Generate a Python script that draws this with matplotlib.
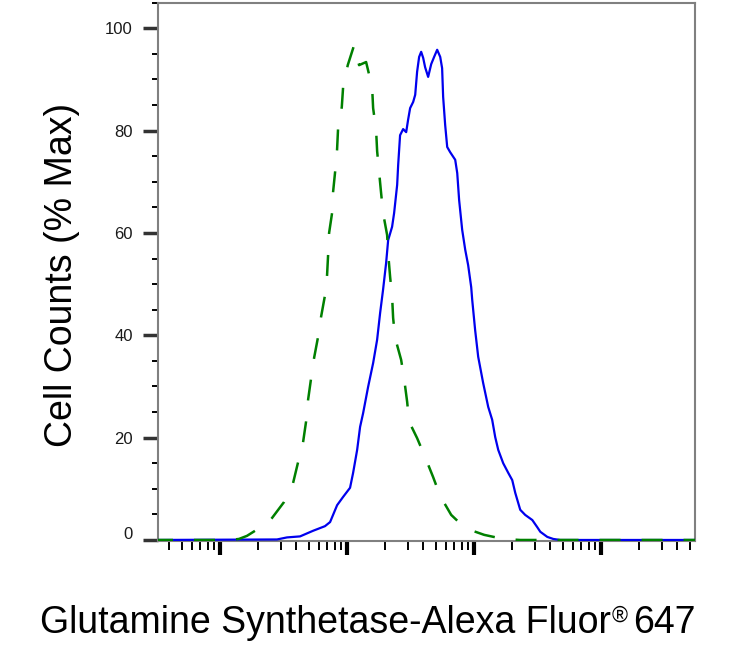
import numpy as np
import matplotlib
matplotlib.use("Agg")
import matplotlib.pyplot as plt
from matplotlib.ticker import LogLocator, NullFormatter, MultipleLocator, FixedLocator
from matplotlib.transforms import ScaledTranslation

plt.rcParams['font.family'] = ['Liberation Sans', 'DejaVu Sans']

# ---- data (fluorescence intensity, % of max) ----
control_x = [3.25, 12.0, 14.1, 16.3, 18.9, 22.6, 25.7, 31.9, 37.6, 41.2, 45.1, 47.6, 49.4,
             52.1, 55.1, 59.2, 62.5, 67.2, 69.7, 71.0, 72.3, 76.3, 77.7, 80.6, 83.5, 85.1,
             91.0, 93.2, 101.4, 113.8, 124.5, 141.4, 157.7, 160.6, 169.5, 172.7, 179.0,
             185.6, 192.4, 207.0, 210.8, 218.6, 226.6, 230.8, 239.3, 266.9, 281.8, 297.6,
             308.6, 356.6, 412.2, 476.5, 541.6, 661.4, 852.6, 1203, 1698, 2312, 55300]
control_y = [0, 0, 0.2, 0.8, 1.8, 2.7, 4.3, 7.4, 11.1, 15.2, 19.1, 23.1, 27.4,
             31.5, 35.6, 39.7, 43.6, 47.9, 51.8, 55.7, 60.0, 63.9, 68.0, 71.9, 76.2, 80.5,
             84.6, 88.5, 92.8, 96.7, 92.8, 93.4, 88.5, 84.4, 80.1, 76.0, 71.9,
             67.8, 63.9, 59.6, 56.1, 51.4, 47.5, 43.4, 39.5, 35.2, 31.5, 27.0,
             23.1, 19.9, 16.2, 12.3, 8.6, 4.9, 2.3, 1.0, 0.2, 0, 0]

sample_x = [3.24, 28.1, 33.7, 42.7, 54.1, 67.1, 73.6, 83.6, 93.1, 105.7, 111.7, 120.2,
            126.8, 134.0, 146.6, 160.7, 172.6, 182.4, 192.3, 203.2, 210.9, 226.5, 235.0,
            248.3, 252.9, 261.8, 276.7, 292.4, 302.7, 314.1, 331.9, 344.4, 356.5, 369.8,
            383.7, 398.1, 412.1, 435.5, 460.3, 485.3, 512.9, 542.0, 561.0, 571.5, 592.9,
            615.2, 648.6, 711.2, 737.9, 763.8, 807.2, 853.1, 899.5, 950.6, 968.3, 1021,
            1079, 1180, 1294, 1390, 1469, 1552, 1698, 1862, 2000, 2113, 2312, 2529, 2877,
            3148, 3327, 3776, 4207, 4775, 55340]
sample_y = [0, 0.1, 0.5, 0.7, 1.8, 2.7, 3.5, 6.8, 8.4, 10.2, 13.1, 17.6,
            22.1, 24.8, 29.9, 34.6, 39.1, 44.4, 48.9, 54.1, 58.6, 61.2, 63.9,
            69.4, 73.3, 79.1, 80.3, 79.7, 82.1, 84.4, 85.6, 87.0, 91.5, 94.4,
            95.4, 94.2, 92.4, 90.5, 93.0, 94.4, 95.8, 94.4, 92.2, 86.6, 81.1,
            76.8, 75.8, 74.3, 71.7, 66.4, 60.6, 56.7, 53.7, 49.4, 46.9, 41.0,
            35.8, 30.7, 26.0, 23.5, 20.1, 17.6, 15.0, 13.1, 11.7, 9.2, 5.9, 4.9, 3.9,
            2.5, 1.6, 0.6, 0.2, 0, 0]

y_major = [0, 20, 40, 60, 80, 100]
y_labels = ['0', '20', '40', '60', '80', '100']

W, H = 736, 650
fig = plt.figure(figsize=(W/100, H/100), dpi=100)
ax = fig.add_axes([158/W, 1 - 541/H, (695-158)/W, 538.3/H])

ax.plot(sample_x, sample_y, color='#0000ee', lw=1.6, zorder=3, solid_joinstyle='round')
ax.plot(control_x, control_y, color='#008000', lw=1.8, linestyle=(2.4, (8.4, 8.4)), zorder=4)

ax.set_xscale('log')
ax.set_xlim(10**0.512, 10**4.74)
ax.set_ylim(-0.2, 105)

ax.xaxis.set_major_locator(LogLocator(base=10, subs=(1.0,)))
ax.xaxis.set_minor_locator(LogLocator(base=10, subs=np.arange(2, 10), numticks=20))
ax.xaxis.set_major_formatter(NullFormatter())
ax.xaxis.set_minor_formatter(NullFormatter())

ax.yaxis.set_major_locator(FixedLocator(y_major))
ax.set_yticklabels(y_labels)
ax.yaxis.set_minor_locator(MultipleLocator(5))

for s in ax.spines.values():
    s.set_color('#808080')
    s.set_linewidth(1.5)

ax.tick_params(axis='x', which='major', direction='out', length=10, width=3, color='black')
ax.tick_params(axis='x', which='minor', direction='out', length=6.5, width=1.4, color='black')
ax.tick_params(axis='y', which='major', direction='out', length=11, width=2.5, color='#333333',
               labelsize=12, labelcolor='#1a1a1a', pad=7)
ax.tick_params(axis='y', which='minor', direction='out', length=4.5, width=1.4, color='black')

# the "0" label sits slightly above its tick
for t in ax.yaxis.get_major_ticks():
    if abs(t.get_loc()) < 1e-9:
        t.label1.set_transform(t.label1.get_transform() + ScaledTranslation(0, 7/100, fig.dpi_scale_trans))

fig.text(62/W, 1 - 275/H, 'Cell Counts (% Max)', rotation=90, ha='center', va='center',
         fontsize=27, color='black')

# x-axis title with a small superscript registered mark
fs = 27
base_px = 633
t1 = fig.text(40/W, 1 - base_px/H, 'Glutamine Synthetase-Alexa Fluor', ha='left', va='baseline',
              fontsize=fs, color='black')
fig.canvas.draw()
r = fig.canvas.get_renderer()
bb1 = t1.get_window_extent(r)
t2 = fig.text((bb1.x1 + 1) / W, 1 - 622/H, '\u00ae', ha='left', va='baseline',
              fontsize=15.5, color='black')
fig.canvas.draw()
bb2 = t2.get_window_extent(r)
fig.text((bb2.x1 + 5) / W, 1 - base_px/H, '647', ha='left', va='baseline', fontsize=fs, color='black')

fig.savefig('out.png', dpi=100)
